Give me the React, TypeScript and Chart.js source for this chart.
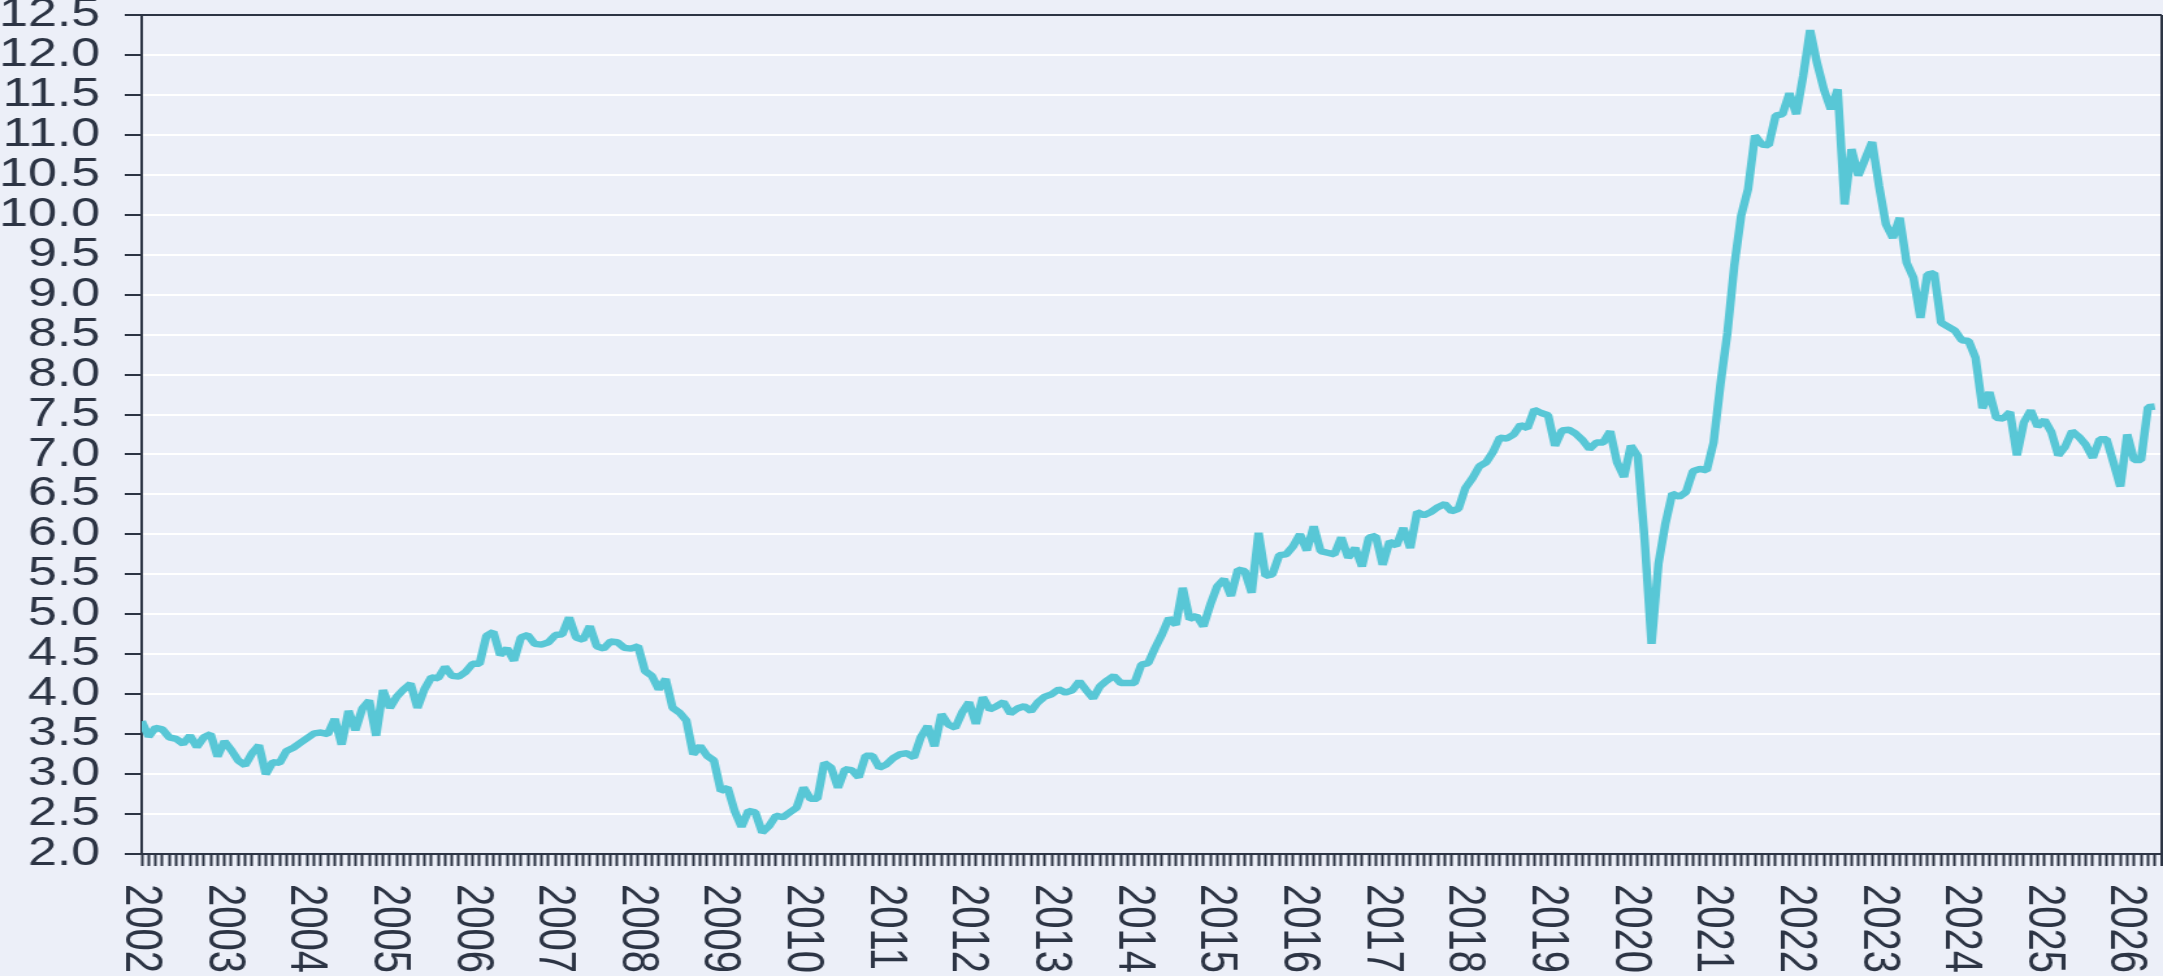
import React, { useEffect, useRef } from "react";
import { Chart, registerables } from "chart.js";

Chart.register(...registerables);

// Monthly series, Jan 2002 onward (index 0 = 2002-01)
const values2002to2007: number[] = [
  3.66, 3.47, 3.58, 3.56, 3.46, 3.44, 3.38, 3.48, 3.34, 3.46, 3.5, 3.22,
  3.41, 3.3, 3.17, 3.11, 3.26, 3.36, 3.0, 3.15, 3.14, 3.29, 3.33, 3.39,
  3.45, 3.51, 3.52, 3.5, 3.69, 3.37, 3.79, 3.55, 3.82, 3.92, 3.48, 4.05,
  3.83, 3.97, 4.06, 4.13, 3.83, 4.06, 4.21, 4.2, 4.34, 4.23, 4.22, 4.28,
  4.38, 4.38, 4.73, 4.78, 4.49, 4.57, 4.42, 4.71, 4.74, 4.63, 4.62, 4.65,
  4.74, 4.75, 4.96, 4.71, 4.68, 4.85, 4.6, 4.57, 4.66, 4.65, 4.58, 4.57,
];
const values2008to2013: number[] = [
  4.6, 4.29, 4.23, 4.06, 4.19, 3.83, 3.77, 3.67, 3.25, 3.35, 3.23, 3.17,
  2.79, 2.83, 2.54, 2.34, 2.54, 2.52, 2.27, 2.35, 2.48, 2.46, 2.52, 2.58,
  2.83, 2.69, 2.69, 3.14, 3.08, 2.83, 3.06, 3.05, 2.96, 3.23, 3.23, 3.08,
  3.12, 3.2, 3.25, 3.26, 3.21, 3.46, 3.6, 3.35, 3.75, 3.62, 3.58, 3.77,
  3.9, 3.63, 3.96, 3.81, 3.85, 3.9, 3.76, 3.82, 3.85, 3.79, 3.9, 3.97,
  4.0, 4.06, 4.02, 4.05, 4.16, 4.05, 3.95, 4.1, 4.17, 4.23, 4.14, 4.14,
];
const values2014to2019: number[] = [
  4.14, 4.37, 4.39, 4.58, 4.75, 4.95, 4.87, 5.33, 4.94, 4.98, 4.85, 5.12,
  5.35, 5.44, 5.23, 5.56, 5.54, 5.27, 6.02, 5.48, 5.5, 5.74, 5.75, 5.85,
  6.0, 5.8, 6.1, 5.79, 5.77, 5.75, 5.96, 5.71, 5.83, 5.6, 5.96, 5.98,
  5.62, 5.91, 5.86, 6.08, 5.83, 6.28, 6.24, 6.28, 6.34, 6.38, 6.29, 6.32,
  6.58, 6.7, 6.85, 6.9, 7.03, 7.21, 7.2, 7.25, 7.37, 7.33, 7.56, 7.52,
  7.49, 7.11, 7.3, 7.31, 7.26, 7.18, 7.07, 7.15, 7.15, 7.29, 6.9, 6.72,
];
const values2020to2026: number[] = [
  7.11, 6.98, 5.93, 4.63, 5.63, 6.13, 6.51, 6.47, 6.53, 6.79, 6.82, 6.8,
  7.15, 7.88, 8.52, 9.36, 9.99, 10.32, 10.99, 10.88, 10.87, 11.24, 11.26, 11.52,
  11.26, 11.74, 12.31, 11.9, 11.57, 11.32, 11.57, 10.13, 10.82, 10.49, 10.7, 10.91,
  10.36, 9.88, 9.71, 9.96, 9.4, 9.21, 8.71, 9.25, 9.27, 8.65, 8.6, 8.55,
  8.43, 8.42, 8.21, 7.58, 7.78, 7.46, 7.45, 7.53, 6.99, 7.4, 7.55, 7.35,
  7.43, 7.28, 6.99, 7.1, 7.29, 7.22, 7.12, 6.96, 7.19, 7.19, 6.9, 6.6,
  7.25, 6.93, 6.93, 7.59, 7.6,
];

const seriesValues: number[] = [
  ...values2002to2007,
  ...values2008to2013,
  ...values2014to2019,
  ...values2020to2026,
];

const firstYear = 2002;
const yearLabels: string[] = Array.from({ length: 25 }, (_, k) => String(firstYear + k));
const yTickMin = 2;
const yTickMax = 12.5;
const yTickStep = 0.5;

const DISPLAY_W = 2163;
const DISPLAY_H = 976;
const CANVAS_W = 1664;
const SCALE_X = DISPLAY_W / CANVAS_W;

const BG = "#eceff8";
const DARK = "#2c3444";
const LINE = "#58c7d6";
const FONT_FAMILY = "'Liberation Sans', Arial, Helvetica, sans-serif";

export default function App() {
  const canvasRef = useRef<HTMLCanvasElement | null>(null);

  useEffect(() => {
    const canvas = canvasRef.current;
    if (!canvas) return;

    const points = seriesValues.map((v, i) => ({ x: i, y: v }));

    const framePlugin = {
      id: "framePlugin",
      beforeDraw(chart: any) {
        const ctx = chart.ctx;
        ctx.save();
        ctx.fillStyle = BG;
        ctx.fillRect(0, 0, chart.width, chart.height);
        ctx.restore();
      },
      afterDraw(chart: any) {
        const ctx = chart.ctx;
        const area = chart.chartArea;
        const xs = chart.scales.x;
        ctx.save();
        ctx.strokeStyle = DARK;
        ctx.lineWidth = 2;
        ctx.beginPath();
        ctx.moveTo(area.left, area.top);
        ctx.lineTo(area.right, area.top);
        ctx.moveTo(area.right, area.top);
        ctx.lineTo(area.right, area.bottom + 12);
        ctx.stroke();

        ctx.fillStyle = DARK;
        ctx.font = `40px ${FONT_FAMILY}`;
        ctx.textAlign = "left";
        ctx.textBaseline = "middle";
        yearLabels.forEach((label, k) => {
          const x = xs.getPixelForValue(k * 12);
          ctx.save();
          ctx.translate(x - 1, area.bottom + 30);
          ctx.rotate(Math.PI / 2);
          ctx.fillText(label, 0, 0);
          ctx.restore();
        });
        ctx.restore();
      },
    };

    const chart = new Chart(canvas, {
      type: "line",
      data: {
        datasets: [
          {
            data: points,
            borderColor: LINE,
            borderWidth: 6.5,
            borderJoinStyle: "bevel",
            borderCapStyle: "butt",
            pointRadius: 0,
            tension: 0,
            fill: false,
          },
        ],
      },
      options: {
        animation: false,
        responsive: false,
        devicePixelRatio: 1,
        layout: { padding: { top: 0, right: 1, bottom: 0, left: 0 } },
        plugins: {
          legend: { display: false },
          tooltip: { enabled: false },
          title: { display: false },
        },
        scales: {
          x: {
            type: "linear",
            min: 0,
            max: 293,
            ticks: {
              display: false,
              stepSize: 1,
              autoSkip: false,
            },
            grid: {
              drawOnChartArea: false,
              drawTicks: true,
              tickLength: 12,
              tickColor: DARK,
              tickWidth: 2,
              color: DARK,
            },
            border: { display: true, color: DARK, width: 2 },
            afterFit: (scale: any) => {
              scale.height = 122;
              scale.paddingLeft = 0;
              scale.paddingRight = 0;
            },
          },
          y: {
            min: yTickMin,
            max: yTickMax,
            ticks: {
              stepSize: yTickStep,
              autoSkip: false,
              color: DARK,
              padding: 19,
              font: { family: FONT_FAMILY, size: 40 },
              callback: (v: any) => Number(v).toFixed(1),
            },
            grid: {
              color: "#ffffff",
              lineWidth: 2,
              drawTicks: true,
              tickLength: 13,
              tickColor: DARK,
              tickWidth: 2,
            },
            border: { display: true, color: DARK, width: 2 },
            afterFit: (scale: any) => {
              scale.width = 109;
              scale.paddingTop = 15;
              scale.paddingBottom = 0;
            },
          },
        },
      },
      plugins: [framePlugin],
    } as any);

    return () => {
      chart.destroy();
    };
  }, []);

  return (
    <div
      style={{
        position: "absolute",
        left: 0,
        top: 0,
        width: DISPLAY_W,
        height: DISPLAY_H,
        overflow: "hidden",
        background: BG,
      }}
    >
      <canvas
        ref={canvasRef}
        width={CANVAS_W}
        height={DISPLAY_H}
        style={{
          display: "block",
          width: CANVAS_W,
          height: DISPLAY_H,
          transform: `scaleX(${SCALE_X})`,
          transformOrigin: "0 0",
        }}
      />
    </div>
  );
}
